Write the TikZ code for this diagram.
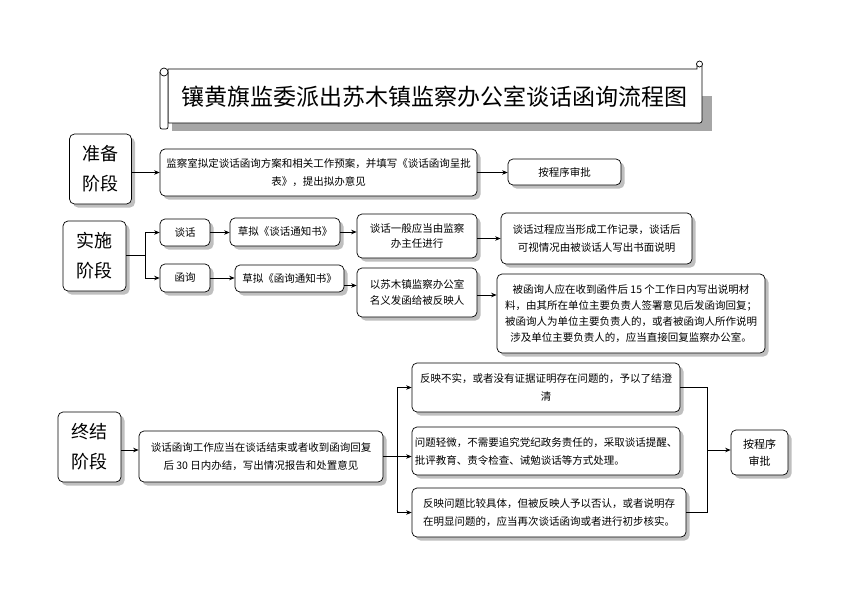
\documentclass[tikz,border=0pt]{standalone}
\usepackage{fontspec}
\setmainfont{Noto Sans CJK SC}
\usetikzlibrary{arrows.meta,shadows}
\begin{document}
\begin{tikzpicture}[x=1pt,y=-1pt,
  bx/.style={draw, line width=0.7pt, rounded corners=5pt, fill=white,
    drop shadow={shadow xshift=3.5pt, shadow yshift=-3.5pt, fill=black!25, opacity=1},
    inner sep=0pt, align=center, font=\fontsize{10.5}{18}\selectfont},
  stage/.style={bx, minimum width=62pt, minimum height=70pt, font=\fontsize{18}{30}\selectfont},
  tight/.style={font=\fontsize{10.5}{15.8}\selectfont},
  arr/.style={-{Stealth[length=5.5pt,width=4.5pt]}, line width=0.7pt},
  ln/.style={line width=0.7pt},
  scrollline/.style={line width=0.7pt, fill=white}
]
\useasboundingbox (0,0) rectangle (842,595);

% title scroll
\fill[black!35] (172,123) rectangle (712,131);
\fill[black!35] (702,96) rectangle (712,131);
\draw[scrollline] (168,69) -- (697,69) -- (697,64) -- (702,64) -- (702,118)
   .. controls (702,123) .. (697,123) -- (168,123) -- cycle;
\draw[scrollline] (168,72) -- (168,124) .. controls (168,129) .. (164,129)
   .. controls (160,129) .. (160,124) -- (160,72);
\draw[scrollline] (164,72) circle[radius=4];
\draw[scrollline] (699.5,64) circle[radius=3];
\node[font=\fontsize{23}{23}\selectfont] (title) at (434,97) {镶黄旗监委派出苏木镇监察办公室谈话函询流程图};

% preparation stage
\node[stage] (prep) at (100.5,169) {准备\\阶段};
\node[bx, minimum width=317pt, minimum height=47pt] (prepd) at (318.5,172.5)
  {监察室拟定谈话函询方案和相关工作预案，并填写《谈话函询呈批\\表》，提出拟办意见};
\node[bx, minimum width=113pt, minimum height=26pt] (prepa) at (564.5,172) {按程序审批};
\draw[arr] (prep.east |- prepd.west) -- (prepd.west);
\draw[arr] (prepd.east) -- (prepd.east -| prepa.west);

% implementation stage
\node[stage, minimum width=63pt] (impl) at (94.5,256) {实施\\阶段};
\node[bx, minimum width=50pt, minimum height=27pt] (talk) at (185,232.5) {谈话};
\node[bx, minimum width=50pt, minimum height=28pt] (letter) at (185,278) {函询};
\node[bx, minimum width=110pt, minimum height=28pt] (talkd) at (285,232) {草拟《谈话通知书》};
\node[bx, minimum width=109pt, minimum height=27pt] (letterd) at (289.5,278.5) {草拟《函询通知书》};
\node[bx, tight, minimum width=120pt, minimum height=44pt] (talk2) at (417,236)
  {谈话一般应当由监察\\办主任进行};
\node[bx, tight, minimum width=120pt, minimum height=49pt] (letter2) at (417,292.5)
  {以苏木镇监察办公室\\名义发函给被反映人};
\node[bx, minimum width=191pt, minimum height=51pt] (talk3) at (596.5,238.5)
  {谈话过程应当形成工作记录，谈话后\\可视情况由被谈话人写出书面说明};
\node[bx, tight, minimum width=268pt, minimum height=79pt] (letter3) at (631,313.5)
  {被函询人应在收到函件后 15 个工作日内写出说明材\\料，由其所在单位主要负责人签署意见后发函询回复；\\被函询人为单位主要负责人的，或者被函询人所作说明\\涉及单位主要负责人的，应当直接回复监察办公室。};
\coordinate (b1) at (145,255);
\draw[ln] (impl.east |- b1) -- (b1);
\draw[arr] (b1) |- (talk.west);
\draw[arr] (b1) |- (letter.west);
\draw[arr] (talk.east) -- (talk.east -| talkd.west);
\draw[arr] (letter.east) -- (letter.east -| letterd.west);
\draw[arr] (talkd.east) -- (talkd.east -| talk2.west);
\draw[arr] ([yshift=-7pt]letterd.east) -- ([yshift=-7pt]letterd.east -| letter2.west);
\draw[arr] (talk2.east |- talk3.west) -- (talk3.west);
\draw[arr] ([yshift=-2.5pt]letter2.east) -- ([yshift=-2.5pt]letter2.east -| letter3.west);

% final stage
\node[stage, minimum width=63pt] (fin) at (89.5,447) {终结\\阶段};
\node[bx, minimum width=244pt, minimum height=51pt] (find) at (261,456.5)
  {谈话函询工作应当在谈话结束或者收到函询回复\\后 30 日内办结，写出情况报告和处置意见};
\node[bx, minimum width=268pt, minimum height=49pt] (r1) at (546,387.5)
  {反映不实，或者没有证据证明存在问题的，予以了结澄\\清};
\node[bx, align=left, minimum width=268pt, minimum height=48pt] (r2) at (546,451)
  {问题轻微，不需要追究党纪政务责任的，采取谈话提醒、\\批评教育、责令检查、诫勉谈话等方式处理。};
\node[bx, align=left, minimum width=274pt, minimum height=49pt] (r3) at (549,512.5)
  {反映问题比较具体，但被反映人予以否认，或者说明存\\在明显问题的，应当再次谈话函询或者进行初步核实。};
\node[bx, minimum width=57pt, minimum height=45pt, font=\fontsize{11}{17}\selectfont] (fina) at (759.5,452.5)
  {按程序\\审批};
\draw[arr] ([yshift=-3pt]fin.east) -- ([yshift=-3pt]fin.east -| find.west);
\coordinate (b2) at (397,457);
\draw[arr] (find.east) -- (find.east -| r2.west);
\draw[arr] (b2) |- (r1.west);
\draw[arr] (b2) |- (r3.west);
\coordinate (c1) at (707,450);
\draw[ln] (r1.east) -| (c1);
\draw[ln] (r3.east) -| (c1);
\draw[arr] (c1) -- (c1 -| fina.west);
\end{tikzpicture}
\end{document}
